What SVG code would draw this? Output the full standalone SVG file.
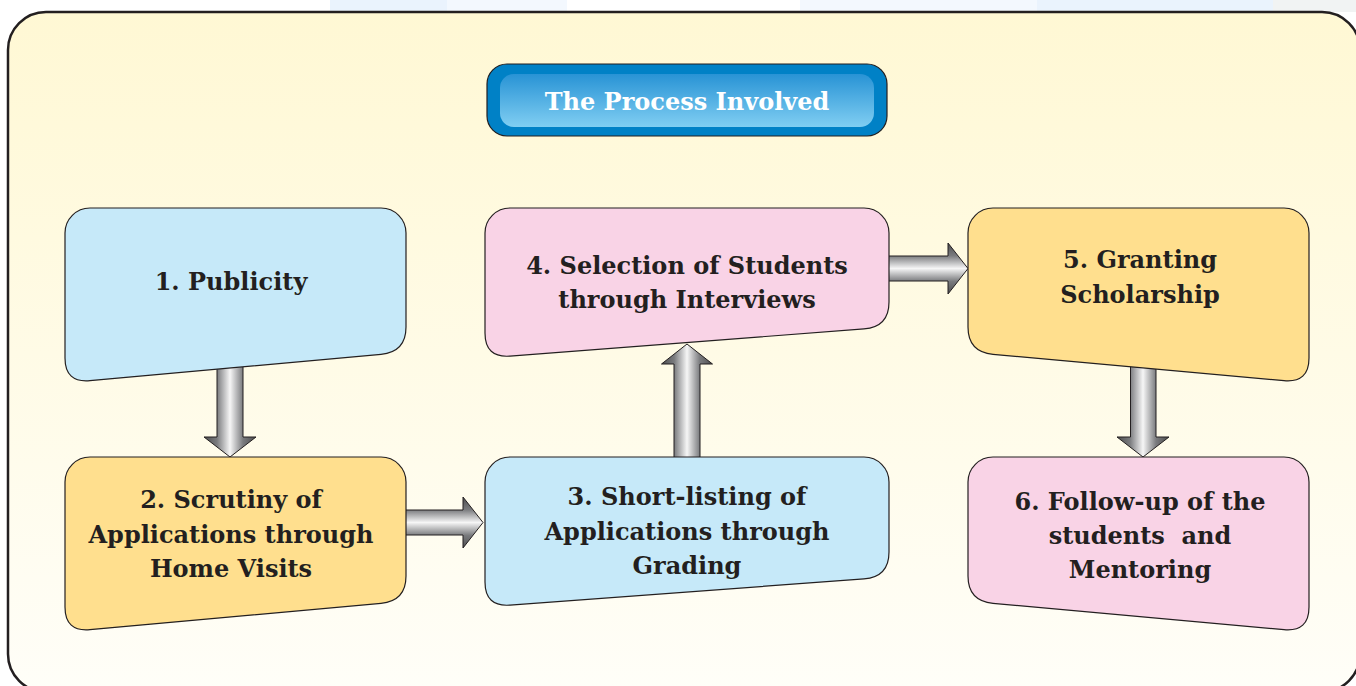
<svg xmlns="http://www.w3.org/2000/svg" width="1356" height="686" viewBox="0 0 1356 686">
<defs>
<linearGradient id="bg" x1="0" y1="0" x2="0" y2="1">
<stop offset="0" stop-color="#FFF8D4"/>
<stop offset="1" stop-color="#FFFEF8"/>
</linearGradient>
<linearGradient id="titleIn" x1="0" y1="0" x2="0" y2="1">
<stop offset="0" stop-color="#2893D5"/>
<stop offset="1" stop-color="#80CEF2"/>
</linearGradient>
<linearGradient id="gv" x1="0" y1="0" x2="1" y2="0">
<stop offset="0" stop-color="#4D4D4F"/>
<stop offset="0.25" stop-color="#7A7B7E"/>
<stop offset="0.5" stop-color="#F6F6F6"/>
<stop offset="0.75" stop-color="#7A7B7E"/>
<stop offset="1" stop-color="#4D4D4F"/>
</linearGradient>
<linearGradient id="gh" x1="0" y1="0" x2="0" y2="1">
<stop offset="0" stop-color="#4D4D4F"/>
<stop offset="0.25" stop-color="#7A7B7E"/>
<stop offset="0.5" stop-color="#F6F6F6"/>
<stop offset="0.75" stop-color="#7A7B7E"/>
<stop offset="1" stop-color="#4D4D4F"/>
</linearGradient>
<style>
.node{stroke:#231F20;stroke-width:1.2}
.blue{fill:#C6E9F9}
.orange{fill:#FFDF8E}
.pink{fill:#F9D3E6}
.arr{stroke:#231F20;stroke-width:1}
.t{font-family:"DejaVu Serif","Liberation Serif",serif;font-weight:bold;font-size:24px;fill:#231F20;text-anchor:middle}
</style>
</defs>
<rect x="0" y="0" width="1356" height="686" fill="#FFFFFF"/>
<g id="backdrop">
<rect x="330" y="0" width="117" height="12" fill="#EAF3FD"/>
<rect x="447" y="0" width="120" height="12" fill="#F3F8FE"/>
<rect x="800" y="0" width="237" height="12" fill="#F3F8FE"/>
<rect x="1037" y="0" width="236" height="12" fill="#EAF3FD"/>
<rect x="1273" y="0" width="83" height="12" fill="#F1F3F3"/>
<rect x="8" y="12" width="1352" height="680" rx="38" ry="38" fill="url(#bg)" stroke="#231F20" stroke-width="2.5"/>
</g>
<g id="title">
<rect x="487" y="64" width="400" height="72" rx="20" ry="20" fill="#0081C6" stroke="#231F20" stroke-width="1.2"/>
<rect x="500" y="74" width="374" height="53" rx="14" ry="14" fill="url(#titleIn)"/>
<text class="t" x="687" y="110" style="fill:#FFFFFF">The Process Involved</text>
</g>
<g id="connectors">
<path class="arr" fill="url(#gv)" d="M217,360 H243 V437 H256 L230,457 L204,437 H217 Z"/>
<path class="arr" fill="url(#gh)" d="M400,510 H463 V497 L483,522.5 L463,548 V535 H400 Z"/>
<path class="arr" fill="url(#gv)" d="M674,465 V364 H661.5 L687,344 L712.5,364 H700 V465 Z"/>
<path class="arr" fill="url(#gh)" d="M883,256 H948 V243 L968,268.5 L948,294 V281 H883 Z"/>
<path class="arr" fill="url(#gv)" d="M1130.5,360 H1156 V437 H1169 L1143,457 L1117,437 H1130.5 Z"/>
</g>
<g id="node1">
<path class="node blue" d="M65,233 A25,25 0 0 1 90,208 H381 A25,25 0 0 1 406,233 V327 Q406,352 381,354.3 L90,380.7 Q65,383 65,358 Z"/>
<text class="t" x="231" y="290">1. Publicity</text>
</g>
<g id="node2">
<path class="node orange" d="M65,482 A25,25 0 0 1 90,457 H381 A25,25 0 0 1 406,482 V576 Q406,601 381,603.3 L90,629.7 Q65,632 65,607 Z"/>
<text class="t" x="231" y="508">2. Scrutiny of</text>
<text class="t" x="231" y="543">Applications through</text>
<text class="t" x="231" y="577">Home Visits</text>
</g>
<g id="node3">
<path class="node blue" d="M485,482 A25,25 0 0 1 510,457 H864 A25,25 0 0 1 889,482 V552 Q889,577 864,578.9 L510,605.1 Q485,607 485,582 Z"/>
<text class="t" x="687" y="505">3. Short-listing of</text>
<text class="t" x="687" y="540">Applications through</text>
<text class="t" x="687" y="574">Grading</text>
</g>
<g id="node4">
<path class="node pink" d="M485,233 A25,25 0 0 1 510,208 H864 A25,25 0 0 1 889,233 V302 Q889,327 864,328.9 L510,356.1 Q485,358 485,333 Z"/>
<text class="t" x="687" y="274">4. Selection of Students</text>
<text class="t" x="687" y="308">through Interviews</text>
</g>
<g id="node5">
<path class="node orange" d="M968,233 A25,25 0 0 1 993,208 H1284 A25,25 0 0 1 1309,233 V358 Q1309,383 1284,380.7 L993,354.3 Q968,352 968,327 Z"/>
<text class="t" x="1140" y="268">5. Granting</text>
<text class="t" x="1140" y="303">Scholarship</text>
</g>
<g id="node6">
<path class="node pink" d="M968,482 A25,25 0 0 1 993,457 H1284 A25,25 0 0 1 1309,482 V607 Q1309,632 1284,629.7 L993,603.3 Q968,601 968,576 Z"/>
<text class="t" x="1140" y="510">6. Follow-up of the</text>
<text class="t" x="1140" y="544" style="white-space:pre">students  and</text>
<text class="t" x="1140" y="578">Mentoring</text>
</g>
</svg>
